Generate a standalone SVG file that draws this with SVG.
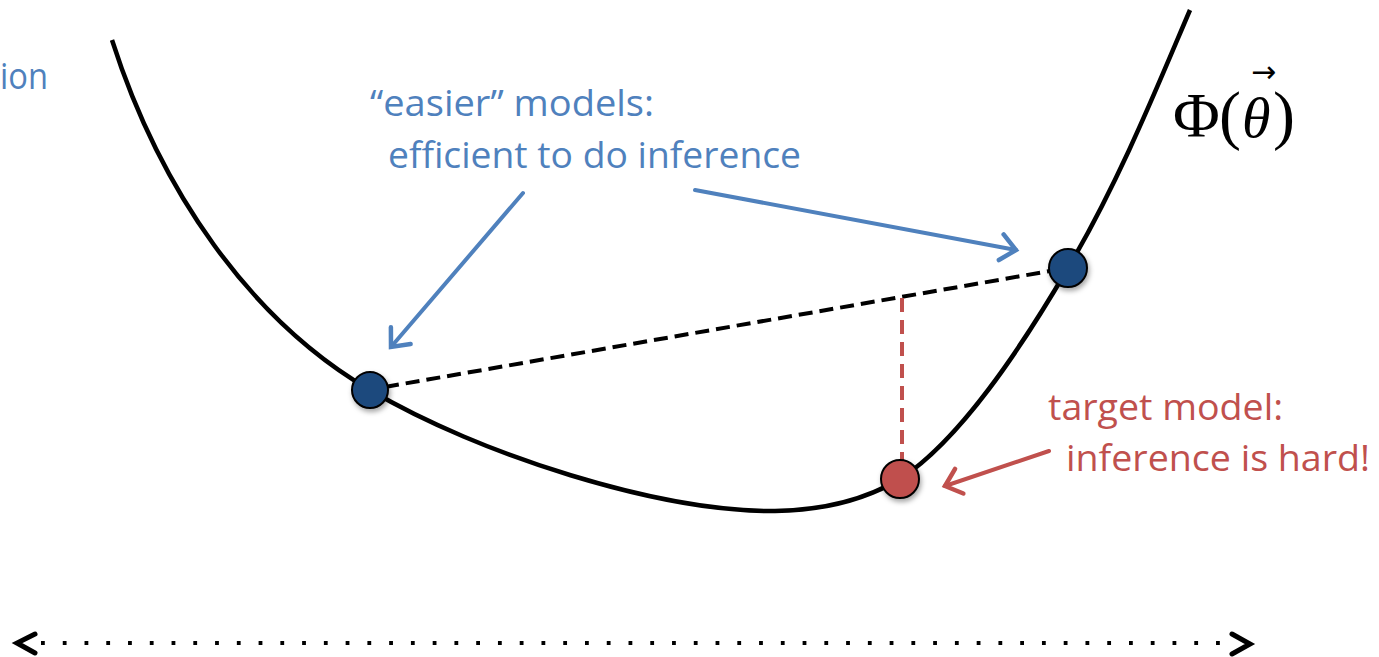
<svg xmlns="http://www.w3.org/2000/svg" width="1379" height="657" viewBox="0 0 1379 657">
  <style>
    .curve { fill: none; stroke: #000; stroke-width: 4.5; }
    .chord { fill: none; stroke: #000; stroke-width: 4; stroke-dasharray: 14 7; }
    .drop { fill: none; stroke: #C0504D; stroke-width: 4; stroke-dasharray: 14 8; }
    .pointer-blue { fill: none; stroke: #4F81BD; stroke-width: 4; stroke-linecap: round; stroke-linejoin: round; }
    .pointer-red { fill: none; stroke: #C0504D; stroke-width: 4; stroke-linecap: round; stroke-linejoin: round; }
    .axis { fill: none; stroke: #000; stroke-width: 4; stroke-dasharray: 3.8 17.96; }
    .axis-head { fill: none; stroke: #000; stroke-width: 5; stroke-linecap: round; stroke-linejoin: miter; }
    .node { stroke: #000; stroke-width: 2; filter: url(#shadow); }
    .blue { fill: #1F497D; }
    .red { fill: #C0504D; }
    .label-blue { font-family: "Open Sans", "Liberation Sans", sans-serif; font-size: 36px; fill: #4F81BD; }
    .label-red { font-family: "Open Sans", "Liberation Sans", sans-serif; font-size: 36px; fill: #C0504D; }
    .math { font-family: "Liberation Serif", "DejaVu Serif", serif; fill: #000; }
  </style>
  <defs>
    <filter id="shadow" x="-50%" y="-50%" width="200%" height="200%">
      <feDropShadow dx="1.5" dy="3" stdDeviation="2.5" flood-color="#000" flood-opacity="0.35"/>
    </filter>
    <!-- open chevron heads, sized in user units -->
    <marker id="head-blue" markerUnits="userSpaceOnUse" markerWidth="40" markerHeight="40" viewBox="-20 -20 40 40" refX="0" refY="0" orient="auto" overflow="visible">
      <path d="M-15,-13 L0,0 L-15,13" fill="none" stroke="#4F81BD" stroke-width="4.5" stroke-linecap="round" stroke-linejoin="miter"/>
    </marker>
    <marker id="head-red" markerUnits="userSpaceOnUse" markerWidth="40" markerHeight="40" viewBox="-20 -20 40 40" refX="0" refY="0" orient="auto" overflow="visible">
      <path d="M-15,-13 L0,0 L-15,13" fill="none" stroke="#C0504D" stroke-width="4.5" stroke-linecap="round" stroke-linejoin="miter"/>
    </marker>
  </defs>

  <rect width="1379" height="657" fill="#fff"/>

  <!-- convex function curve -->
  <g id="curve">
    <path class="curve" d="M112,40 C160,190 250,320 370,390 C480,455 660,512 775,511 C835,510 875,494 900,479 C960,440 1020,350 1068,268 C1120,180 1160,80 1190,10"/>
  </g>

  <!-- connectors -->
  <g id="connectors">
    <line class="chord" x1="385" y1="387" x2="1050" y2="271"/>
    <line class="drop" x1="902" y1="298" x2="902" y2="460"/>
    <line class="pointer-blue" x1="523" y1="193" x2="391" y2="347" marker-end="url(#head-blue)"/>
    <line class="pointer-blue" x1="695" y1="190" x2="1016" y2="250" marker-end="url(#head-blue)"/>
    <line class="pointer-red" x1="1049" y1="451" x2="945" y2="486" marker-end="url(#head-red)"/>
    <!-- parameter axis -->
    <line class="axis" x1="41" y1="643" x2="1222" y2="643"/>
    <polyline class="axis-head" points="35,634 17,643 35,653"/>
    <polyline class="axis-head" points="1232,634 1250,644 1232,654"/>
  </g>

  <!-- models on the curve -->
  <g id="node-easy-left">
    <circle class="node blue" cx="370" cy="390" r="18"/>
  </g>
  <g id="node-easy-right">
    <circle class="node blue" cx="1068" cy="268" r="19"/>
  </g>
  <g id="node-target">
    <circle class="node red" cx="900" cy="479" r="19"/>
  </g>

  <!-- labels -->
  <g id="label-easier">
    <text class="label-blue" x="370" y="116" textLength="284" lengthAdjust="spacingAndGlyphs">“easier” models:</text>
    <text class="label-blue" x="388" y="168" textLength="413" lengthAdjust="spacingAndGlyphs">efficient to do inference</text>
  </g>
  <g id="label-target">
    <text class="label-red" x="1048" y="420" textLength="235" lengthAdjust="spacingAndGlyphs">target model:</text>
    <text class="label-red" x="1066" y="471" textLength="304" lengthAdjust="spacingAndGlyphs">inference is hard!</text>
  </g>
  <g id="label-left">
    <text class="label-blue" x="48" y="89" text-anchor="end" textLength="48" lengthAdjust="spacingAndGlyphs">ion</text>
  </g>
  <!-- Φ(θ) with vector accent, one text run -->
  <g id="label-phi">
    <text class="math" font-size="64"><tspan x="1173" y="137" font-size="64">Φ</tspan><tspan x="1219" y="137" font-size="66">(</tspan><tspan x="1242" y="137" font-size="58" font-style="italic">θ</tspan><tspan x="1251" y="82" font-size="30" font-family="DejaVu Sans, sans-serif">→</tspan><tspan x="1273" y="137" font-size="66">)</tspan></text>
  </g>
</svg>
